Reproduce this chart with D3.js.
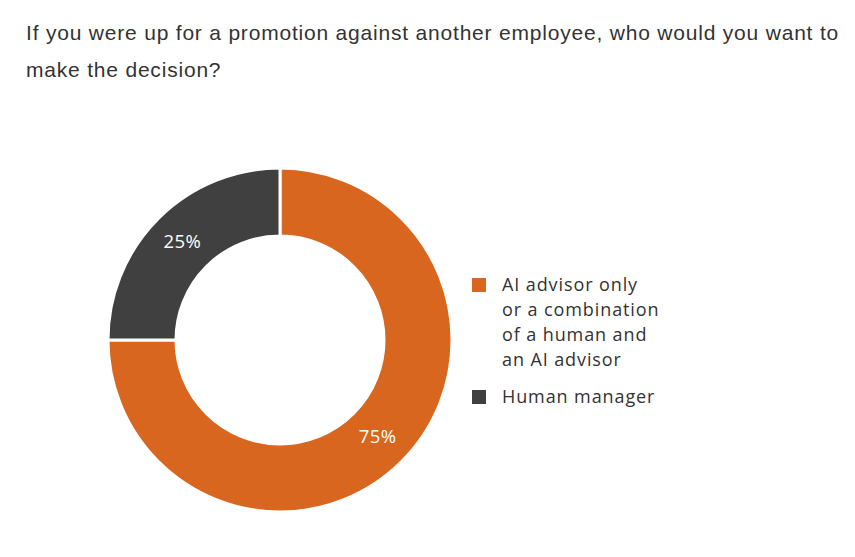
<!DOCTYPE html>
<html>
<head>
<meta charset="utf-8">
<script src="https://cdn.jsdelivr.net/npm/d3@7"></script>
<style>
  body { margin: 0; background: #fff; }
  .title { font-family: "Liberation Sans", Arial, sans-serif; font-size: 21px; fill: #333; letter-spacing: 0.8px; }
  .lbl { font-family: "Open Sans", sans-serif; font-size: 18.5px; fill: #fff; letter-spacing: 0.4px; }
  .leg { font-family: "Open Sans", sans-serif; font-size: 18px; fill: #333; letter-spacing: 0.9px; }
</style>
</head>
<body>
<svg id="chart"></svg>
<script>
// Data
var categories = ["AI advisor only or a combination of a human and an AI advisor", "Human manager"];
var values = [75, 25];
var legendLines = [
    ["AI advisor only", "or a combination", "of a human and", "an AI advisor"],
    ["Human manager"]
];
var titleLines = [
    "If you were up for a promotion against another employee, who would you want to",
    "make the decision?"
];
var colors = ["#d9661f", "#404040"];

var width = 855, height = 557;
var svg = d3.select("#chart")
    .attr("width", width)
    .attr("height", height);

// title
svg.selectAll(".title")
    .data(titleLines)
    .enter().append("text")
    .attr("class", "title")
    .attr("x", 26)
    .attr("y", function (d, i) { return 40 + i * 37; })
    .text(function (d) { return d; });

// donut
var cx = 280, cy = 340, outerR = 172, innerR = 104;
var g = svg.append("g").attr("transform", "translate(" + cx + "," + cy + ")");

var pie = d3.pie().sort(null).value(function (d) { return d; });
var arc = d3.arc().innerRadius(innerR).outerRadius(outerR);
var labelArc = d3.arc().innerRadius(138).outerRadius(138);

var arcs = pie(values);

g.selectAll("path")
    .data(arcs)
    .enter().append("path")
    .attr("d", arc)
    .attr("fill", function (d, i) { return colors[i]; })
    .attr("stroke", "#fff")
    .attr("stroke-width", 3);

g.selectAll(".lbl")
    .data(arcs)
    .enter().append("text")
    .attr("class", "lbl")
    .attr("text-anchor", "middle")
    .attr("dy", "0.3em")
    .attr("transform", function (d) { return "translate(" + labelArc.centroid(d) + ")"; })
    .text(function (d) { return d.data + "%"; });

// legend
var legY = [278, 390];
var leg = svg.selectAll(".legitem")
    .data(categories)
    .enter().append("g")
    .attr("class", "legitem")
    .attr("transform", function (d, i) { return "translate(472," + legY[i] + ")"; });

leg.append("rect")
    .attr("width", 14)
    .attr("height", 14)
    .attr("fill", function (d, i) { return colors[i]; });

leg.each(function (d, i) {
    d3.select(this).selectAll("text")
        .data(legendLines[i])
        .enter().append("text")
        .attr("class", "leg")
        .attr("x", 30)
        .attr("y", function (t, j) { return 13 + j * 25; })
        .text(function (t) { return t; });
});
</script>
</body>
</html>
